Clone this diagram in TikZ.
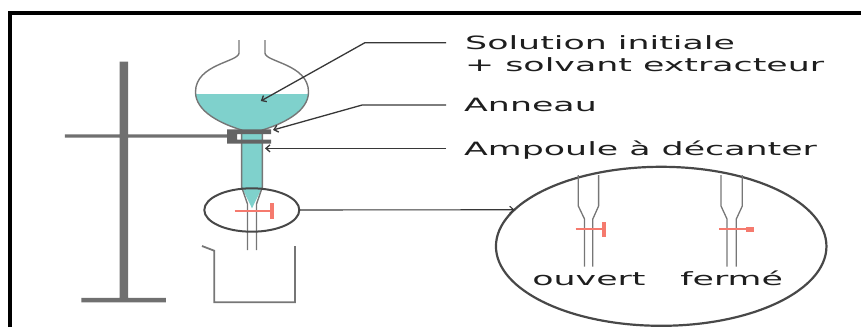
\documentclass[tikz,border=0pt]{standalone}
\usepackage{fontspec}
\usetikzlibrary{arrows.meta,shapes.geometric}
\newfontfamily\labelfont[FakeStretch=1.9]{DejaVu Sans}
\definecolor{standgray}{RGB}{112,112,112}
\definecolor{clampgray}{RGB}{100,100,100}
\definecolor{glassgray}{RGB}{118,118,118}
\definecolor{loupegray}{RGB}{72,72,72}
\definecolor{leadergray}{RGB}{55,55,55}
\definecolor{liquid}{RGB}{127,209,204}
\definecolor{tapred}{RGB}{245,122,110}
\definecolor{ink}{RGB}{30,30,30}

\begin{document}
\begin{tikzpicture}[x=1pt, y=-1pt,
    txt/.style={font=\labelfont\fontsize{18.3}{22}\selectfont, text=ink, inner sep=0pt, text height=13.3pt, text depth=0pt},
    leader/.style={draw=leadergray, line width=1.3pt, -{Straight Barb[length=4pt,width=7pt]}},
    glass/.style={draw=glassgray, line width=1.4pt},
    tap/.style={draw=tapred, line width=2pt},
    loupe/.style={ellipse, draw=loupegray, inner sep=0pt, outer sep=0pt}]
  \useasboundingbox (0,0) rectangle (861,327);

  \draw[line width=4pt] (10,327) -- (10,13) -- (861,13);

  \fill[standgray]
  (119.7,61.7) rectangle (128,302)
  (81.3,297.8) rectangle (165.8,302.3)
  (64.8,134.3) rectangle (228,137.7);

  \begin{scope}
    \clip (185,94.3) rectangle (320,135);
    \fill[liquid]
    (239,53) .. controls (239,62) and (195.5,64) .. (195.5,92)
    .. controls (195.5,112) and (222,124) .. (241.6,130)
    -- (262.4,130) .. controls (282,124) and (308.5,112) .. (308.5,92)
    .. controls (308.5,64) and (265,62) .. (265,53) -- cycle;
  \end{scope}
  \fill[liquid] (241.6,128) -- (241.6,187) -- (252,208.3) -- (262.4,187) -- (262.4,128) -- cycle;

  \draw[glass]
  (239,40) -- (239,53) .. controls (239,62) and (195.5,64) .. (195.5,92)
  .. controls (195.5,112) and (222,124) .. (241.6,130)
  -- (241.6,187) -- (247.5,204) -- (247.5,250);
  \draw[glass]
  (265,40) -- (265,53) .. controls (265,62) and (308.5,64) .. (308.5,92)
  .. controls (308.5,112) and (282,124) .. (262.4,130)
  -- (262.4,187) -- (256.5,204) -- (256.5,250);

  \fill[clampgray]
  (227,129.3) rectangle (271,134)
  (227,139.5) rectangle (271,143.5)
  (227,129.3) rectangle (237,143.5);

  \draw[tap] (234.5,210.7) -- (270,210.7);
  \fill[tapred] (269.5,202.7) rectangle (273.5,219);

  \draw[glass, line width=1.8pt, line join=miter]
  (202,246) -- (214.2,250.7) -- (214.2,302.3) -- (295,302.3) -- (295,246);

  \node[loupe, line width=2pt, minimum width=95pt, minimum height=43.4pt] (zoom) at (251.8,210) {};
  \node[loupe, line width=2.2pt, minimum width=330.5pt, minimum height=159pt] (lens) at (661.2,246.3) {};
  \draw[leader, line width=1.1pt] (zoom.east) -- (lens.166.1);

  \draw[glass, line width=1.3pt]
  (578.3,175) -- (578.3,206) -- (584.5,219) -- (584.5,266.7)
  (598.6,175) -- (598.6,206) -- (592.8,219) -- (592.8,266.7)
  (721,175) -- (721,206) -- (727,219) -- (727,266.7)
  (742.3,175) -- (742.3,206) -- (736.3,219) -- (736.3,266.7);

  \draw[tap] (575.5,229.3) -- (603,229.3);
  \fill[tapred] (602,221.7) rectangle (606.3,237.3);
  \draw[tap] (719.4,229.3) -- (747,229.3);
  \fill[tapred] (745.7,227.3) rectangle (754,231.7);

  \node[txt, anchor=base] (ouvert) at (589,285) {ouvert};
  \node[txt, anchor=base] (ferme) at (731.7,285) {fermé};

  \node[txt, anchor=base west] (sol1) at (465,49.3) {Solution initiale};
  \node[txt, anchor=base west] (sol2) at (465,71.7) {+ solvant extracteur};
  \node[txt, anchor=base west] (anneau) at (464,111.7) {Anneau};
  \node[txt, anchor=base west] (ampoule) at (464,155) {Ampoule à décanter};

  \coordinate (bulb) at (260.8,101);
  \coordinate (ring) at (273,130);
  \coordinate (stem) at (265,149.3);

  \draw[leader] ([xshift=-19pt]sol1.west) -- ++(-81,0) -- (bulb);
  \draw[leader] ([xshift=-18pt]anneau.west) -- ++(-84,0) -- (ring);
  \draw[leader] ([xshift=-18pt]ampoule.west) -- (stem |- ampoule.west);
\end{tikzpicture}
\end{document}
